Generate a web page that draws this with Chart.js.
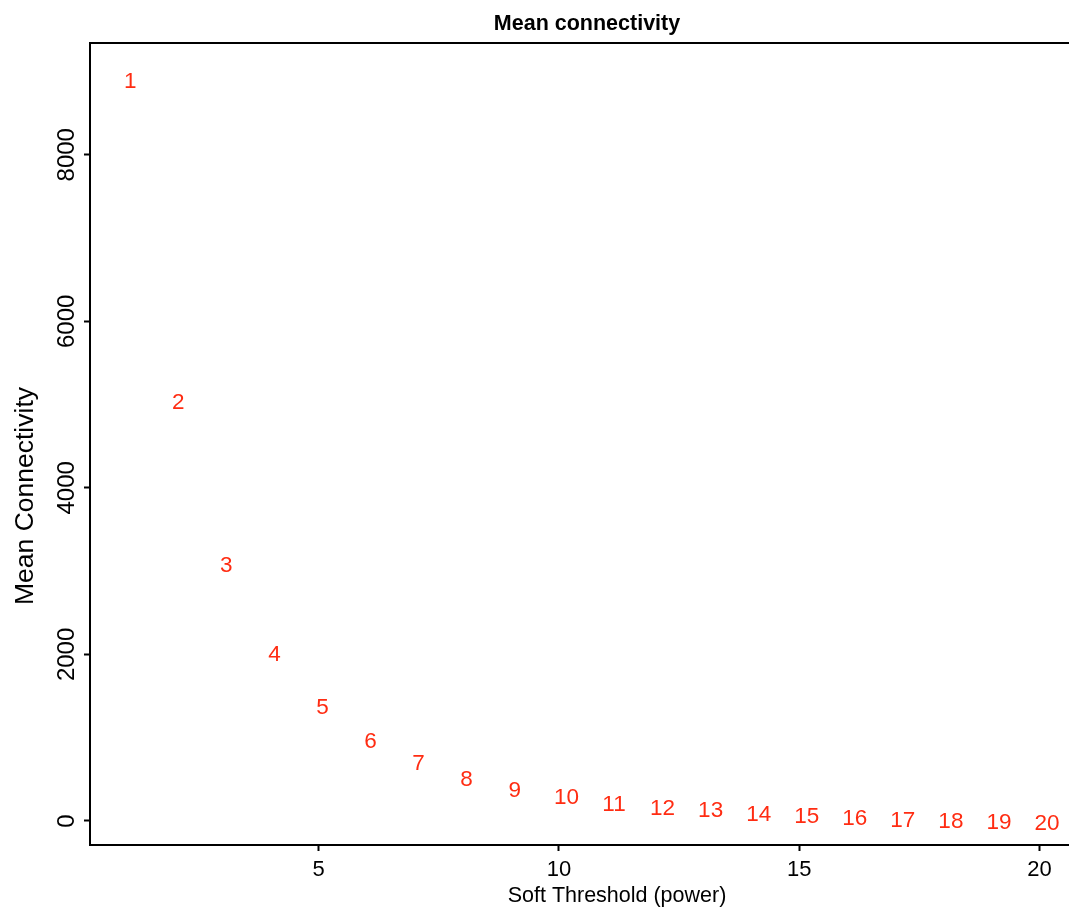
<!DOCTYPE html>
<html>
<head>
<meta charset="utf-8">
<script src="https://cdn.jsdelivr.net/npm/chart.js@4.4.1/dist/chart.umd.min.js"></script>
<style>
  html, body { margin: 0; padding: 0; background: #fff; overflow: hidden; }
  canvas { display: block; }
</style>
</head>
<body>
<canvas id="c" width="1080" height="911"></canvas>
<script>
// Soft-threshold scan: mean connectivity per power, drawn R-style as red text labels.
const powers = [1, 2, 3, 4, 5, 6, 7, 8, 9, 10, 11, 12, 13, 14, 15, 16, 17, 18, 19, 20];
const meanK = [8985, 5121, 3171, 2098, 1465, 1057, 796, 604, 468, 388,
               304, 256, 225, 184, 156, 129, 108, 96, 84, 68];
const xTicks = [5, 10, 15, 20];
const yTicks = [0, 2000, 4000, 6000, 8000];

const FONT = "'Liberation Sans', Arial, Helvetica, sans-serif";
const RED = '#ff2c12';

// R pads the data range by 4% on each side
const xPad = 0.04 * (Math.max(...powers) - Math.min(...powers));
const yPad = 0.04 * (Math.max(...meanK) - Math.min(...meanK));

const rDecor = {
  id: 'rDecor',
  afterDraw(chart) {
    const { ctx, chartArea: a, scales: { y } } = chart;
    ctx.save();
    // full box (right side falls off the page like the reference)
    ctx.strokeStyle = '#000';
    ctx.lineWidth = 2;
    ctx.strokeRect(a.left, a.top, a.right - a.left, a.bottom - a.top);

    // text labels in place of points (the device sets them slightly right of x)
    ctx.fillStyle = RED;
    ctx.font = `22.5px ${FONT}`;
    ctx.textAlign = 'left';
    ctx.textBaseline = 'alphabetic';
    chart.getDatasetMeta(0).data.forEach((pt, i) => {
      const s = String(powers[i]);
      const w = ctx.measureText(s).width;
      ctx.fillText(s, pt.x - 0.2 * w, pt.y + 15);
    });

    // rotated y tick labels (R las=0)
    ctx.fillStyle = '#000';
    ctx.textAlign = 'center';
    ctx.font = `24px ${FONT}`;
    for (const v of yTicks) {
      ctx.save();
      ctx.translate(74, y.getPixelForValue(v));
      ctx.rotate(-Math.PI / 2);
      ctx.fillText(String(v), 0, 0);
      ctx.restore();
    }

    // y axis label
    ctx.save();
    ctx.font = `26.5px ${FONT}`;
    ctx.translate(33, 496);
    ctx.rotate(-Math.PI / 2);
    ctx.fillText('Mean Connectivity', 0, 0);
    ctx.restore();

    // x axis label and title
    ctx.font = `21.5px ${FONT}`;
    ctx.fillText('Soft Threshold (power)', 617, 902);
    ctx.font = `bold 21.5px ${FONT}`;
    ctx.fillText('Mean connectivity', 587, 30);
    ctx.restore();
  }
};

new Chart(document.getElementById('c'), {
  type: 'scatter',
  data: {
    datasets: [{
      data: powers.map((p, i) => ({ x: p, y: meanK[i] })),
      pointRadius: 0,
      showLine: false
    }]
  },
  options: {
    responsive: false,
    animation: false,
    layout: { padding: { top: 43, right: 4, left: 0, bottom: 0 } },
    plugins: { legend: { display: false }, tooltip: { enabled: false } },
    scales: {
      x: {
        type: 'linear',
        min: Math.min(...powers) - xPad,
        max: Math.max(...powers) + xPad,
        afterBuildTicks: (s) => { s.ticks = xTicks.map((v) => ({ value: v })); },
        afterFit: (s) => { s.height = 66; },
        border: { display: false },
        grid: { drawOnChartArea: false, drawTicks: true, tickLength: 6, tickWidth: 2, tickColor: '#000' },
        ticks: { color: '#000', padding: 6, maxRotation: 0, font: { family: FONT, size: 22 } }
      },
      y: {
        type: 'linear',
        min: Math.min(...meanK) - yPad,
        max: Math.max(...meanK) + yPad,
        afterBuildTicks: (s) => { s.ticks = yTicks.map((v) => ({ value: v })); },
        afterFit: (s) => { s.width = 90; },
        border: { display: false },
        grid: { drawOnChartArea: false, drawTicks: true, tickLength: 6, tickWidth: 2, tickColor: '#000' },
        ticks: { display: false }
      }
    }
  },
  plugins: [rDecor]
});
</script>
</body>
</html>
